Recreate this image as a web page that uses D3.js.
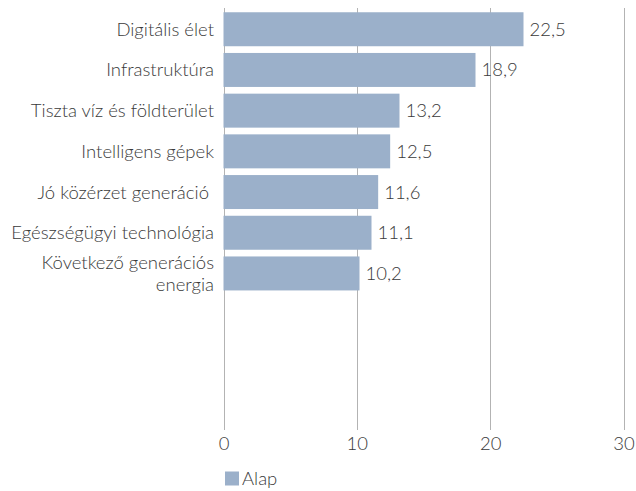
<!DOCTYPE html>
<html>
<head>
<meta charset="utf-8">
<script src="https://cdn.jsdelivr.net/npm/d3@7"></script>
<style>
  html, body { margin: 0; padding: 0; background: #fff; }
  svg text { font-family: Lato, "Open Sans", sans-serif; font-weight: 300; fill: #3a3a3a; }
</style>
</head>
<body>
<svg id="chart" width="636" height="491"></svg>
<script>
const categories = [
  ["Digitális élet"],
  ["Infrastruktúra"],
  ["Tiszta víz és földterület"],
  ["Intelligens gépek"],
  ["Jó közérzet generáció "],
  ["Egészségügyi technológia"],
  ["Következő generációs", "energia"]
];
const values = [22.5, 18.9, 13.2, 12.5, 11.6, 11.1, 10.2];
const xTicks = [0, 10, 20, 30];
const seriesName = "Alap";

const color = "#9bb0ca";
const fsNum = 18.5;
const fs = fsNum + "px";
const svg = d3.select("#chart");

const x = d3.scaleLinear().domain([0, 30]).range([223.5, 623.5]);
const keys = categories.map((c, i) => i);
const y = d3.scaleBand().domain(keys).range([8.9, 293.8]).paddingInner(0.165).paddingOuter(0.0825);

const gridTop = 8, gridBottom = 430;

// gridlines
svg.append("g").selectAll("line").data(xTicks).join("line")
  .attr("x1", d => Math.round(x(d)) + 0.5).attr("x2", d => Math.round(x(d)) + 0.5)
  .attr("y1", gridTop).attr("y2", gridBottom)
  .attr("stroke", "#b3b3b3").attr("stroke-width", 1);

// axis tick labels
const axis = d3.axisBottom(x).tickValues(xTicks).tickSize(0).tickPadding(0).tickFormat(d3.format("d"));
const ax = svg.append("g").attr("transform", `translate(0,${gridBottom + 7})`).call(axis);
ax.select(".domain").remove();
ax.selectAll("text").attr("dy", "0.71em").style("font-size", fs).style("font-family", "Lato, sans-serif").style("font-weight", 300).attr("fill", "#3a3a3a");

// bars
svg.append("g").selectAll("rect").data(values).join("rect")
  .attr("x", x(0))
  .attr("y", (d, i) => y(i))
  .attr("width", d => x(d) - x(0))
  .attr("height", y.bandwidth())
  .attr("fill", color);

// value labels
svg.append("g").selectAll("text").data(values).join("text")
  .attr("x", d => x(d) + 6)
  .attr("y", (d, i) => y(i) + y.bandwidth() / 2)
  .attr("dy", "0.35em")
  .style("font-size", fs)
  .text(d => d3.format(".1f")(d).replace(".", ","));

// category labels (each line its own text element)
const lh = 22.4;
const labG = svg.append("g");
categories.forEach((lines, i) => {
  const cy = y(i) + y.bandwidth() / 2;
  const off = -(lines.length - 1) * lh / 2;
  lines.forEach((line, j) => {
    labG.append("text")
      .attr("text-anchor", "end")
      .style("font-size", fs)
      .style("white-space", "pre")
      .attr("x", 214)
      .attr("y", cy + off + j * lh)
      .attr("dy", "0.35em")
      .text(line);
  });
});

// legend
const lg = svg.append("g");
lg.append("rect").attr("x", 225).attr("y", 471.5).attr("width", 14).attr("height", 14).attr("fill", color);
lg.append("text").attr("x", 242).attr("y", 478.5).attr("dy", "0.35em").style("font-size", fs).text(seriesName);
</script>
</body>
</html>
